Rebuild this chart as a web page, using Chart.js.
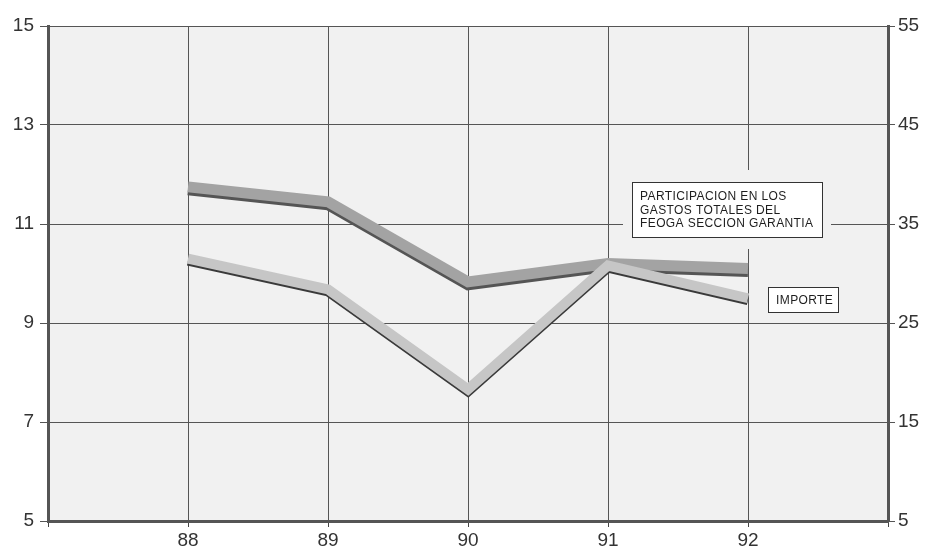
<!DOCTYPE html>
<html lang="es">
<head>
  <meta charset="UTF-8" />
  <title>FEOGA Garantia</title>
  <script src="https://cdn.jsdelivr.net/npm/chart.js"></script>
  <style>
    body { margin: 0; background: #ffffff; }
    #wrap { width: 930px; height: 553px; }
  </style>
</head>
<body>
  <div id="wrap"><canvas id="chart" width="930" height="553"></canvas></div>

  <script>
    // datos
    const years = [88, 89, 90, 91, 92];
    const participacion = [11.75, 11.45, 9.83, 10.2, 10.1];   // eje izquierdo
    const importe = [31.5, 28.4, 18.3, 30.8, 27.5];          // eje derecho
    const leftTicks = [5, 7, 9, 11, 13, 15];
    const rightTicks = [5, 15, 25, 35, 45, 55];
    const participacionLabel = ['PARTICIPACION EN LOS', 'GASTOS TOTALES DEL', 'FEOGA SECCION GARANTIA'];
    const importeLabel = ['IMPORTE'];

    const FONT = '"Liberation Sans", Arial, sans-serif';
    const PLOT_BG = '#f1f1f1';

    const toPoints = vals => vals.map((v, i) => ({ x: years[i], y: v }));

    // fondo gris del area de trazado
    const plotBg = {
      id: 'plotBg',
      beforeDraw(chart) {
        const { ctx, chartArea: a } = chart;
        ctx.save();
        ctx.fillStyle = PLOT_BG;
        ctx.fillRect(a.left, a.top, a.right - a.left, a.bottom - a.top);
        ctx.restore();
      }
    };

    // sombra oscura bajo cada linea (efecto relieve)
    const lineShadow = {
      id: 'lineShadow',
      beforeDatasetDraw(chart, args) {
        const ds = chart.data.datasets[args.index];
        chart.ctx.save();
        chart.ctx.shadowColor = ds.shadowCol;
        chart.ctx.shadowOffsetY = ds.shadowY;
        chart.ctx.shadowOffsetX = 0;
        chart.ctx.shadowBlur = 0;
      },
      afterDatasetDraw(chart) {
        chart.ctx.restore();
      }
    };

    // recuadros de texto
    function drawBox(ctx, lines, x, y, w, h, pad) {
      ctx.fillStyle = PLOT_BG;
      ctx.fillRect(x - pad.x, y - pad.y, w + pad.x * 2, h + pad.y * 2);
      ctx.fillStyle = '#ffffff';
      ctx.fillRect(x, y, w, h);
      ctx.strokeStyle = '#333';
      ctx.lineWidth = 1;
      ctx.strokeRect(x + 0.5, y + 0.5, w, h);
      ctx.fillStyle = '#1e1e1e';
      ctx.font = '12px ' + FONT;
      ctx.letterSpacing = '0.4px';
      ctx.textBaseline = 'middle';
      ctx.textAlign = 'left';
      const lh = 13.5;
      const y0 = y + h / 2 - (lines.length - 1) * lh / 2 + 1;
      lines.forEach((t, i) => ctx.fillText(t, x + 8, y0 + i * lh));
    }

    const boxes = {
      id: 'boxes',
      afterDatasetsDraw(chart) {
        const ctx = chart.ctx;
        ctx.save();
        drawBox(ctx, participacionLabel, 632, 182, 190, 55, { x: 9, y: 12 });
        drawBox(ctx, importeLabel, 768, 287, 70, 25, { x: 0, y: 0 });
        ctx.restore();
      }
    };

    const tickFont = { family: FONT, size: 19 };

    new Chart(document.getElementById('chart'), {
      type: 'line',
      data: {
        datasets: [
          {
            label: 'PARTICIPACION EN LOS GASTOS TOTALES DEL FEOGA SECCION GARANTIA',
            data: toPoints(participacion),
            yAxisID: 'y',
            order: 1,
            borderColor: '#a3a3a3',
            borderWidth: 11,
            shadowCol: '#555555',
            shadowY: 3,
            pointRadius: 0,
            tension: 0,
            borderJoinStyle: 'miter',
            borderCapStyle: 'butt'
          },
          {
            label: 'IMPORTE',
            data: toPoints(importe),
            yAxisID: 'y1',
            order: 0,
            borderColor: '#c6c6c6',
            borderWidth: 10,
            shadowCol: '#3a3a3a',
            shadowY: 2,
            pointRadius: 0,
            tension: 0,
            borderJoinStyle: 'miter',
            borderCapStyle: 'butt'
          }
        ]
      },
      options: {
        responsive: false,
        animation: false,
        events: [],
        layout: { padding: { top: 26, left: 0, right: 0, bottom: 0 } },
        plugins: { legend: { display: false }, tooltip: { enabled: false } },
        scales: {
          x: {
            type: 'linear',
            min: 87,
            max: 93,
            afterBuildTicks: s => { s.ticks = [87].concat(years, [93]).map(v => ({ value: v })); },
            afterFit: s => { s.height = 32; },
            ticks: {
              font: tickFont,
              color: '#333',
              padding: 2,
              maxRotation: 0,
              callback: v => (years.includes(v) ? String(v) : '')
            },
            grid: {
              color: c => (c.tick && years.includes(c.tick.value) ? '#555' : 'rgba(0,0,0,0)'),
              tickColor: '#444',
              lineWidth: 1,
              tickLength: 6
            },
            border: { color: '#555', width: 3 }
          },
          y: {
            position: 'left',
            min: 5,
            max: 15,
            afterBuildTicks: s => { s.ticks = leftTicks.map(v => ({ value: v })); },
            afterFit: s => { s.width = 48; },
            ticks: { font: tickFont, color: '#333', padding: 6 },
            grid: { color: '#555', lineWidth: 1, tickColor: '#555', tickLength: 8 },
            border: { color: '#555', width: 3 }
          },
          y1: {
            position: 'right',
            min: 5,
            max: 55,
            afterBuildTicks: s => { s.ticks = rightTicks.map(v => ({ value: v })); },
            afterFit: s => { s.width = 42; },
            ticks: { font: tickFont, color: '#333', padding: 3 },
            grid: { drawOnChartArea: false, tickColor: '#555', tickLength: 7 },
            border: { color: '#555', width: 3 }
          }
        }
      },
      plugins: [plotBg, lineShadow, boxes]
    });
  </script>
</body>
</html>
